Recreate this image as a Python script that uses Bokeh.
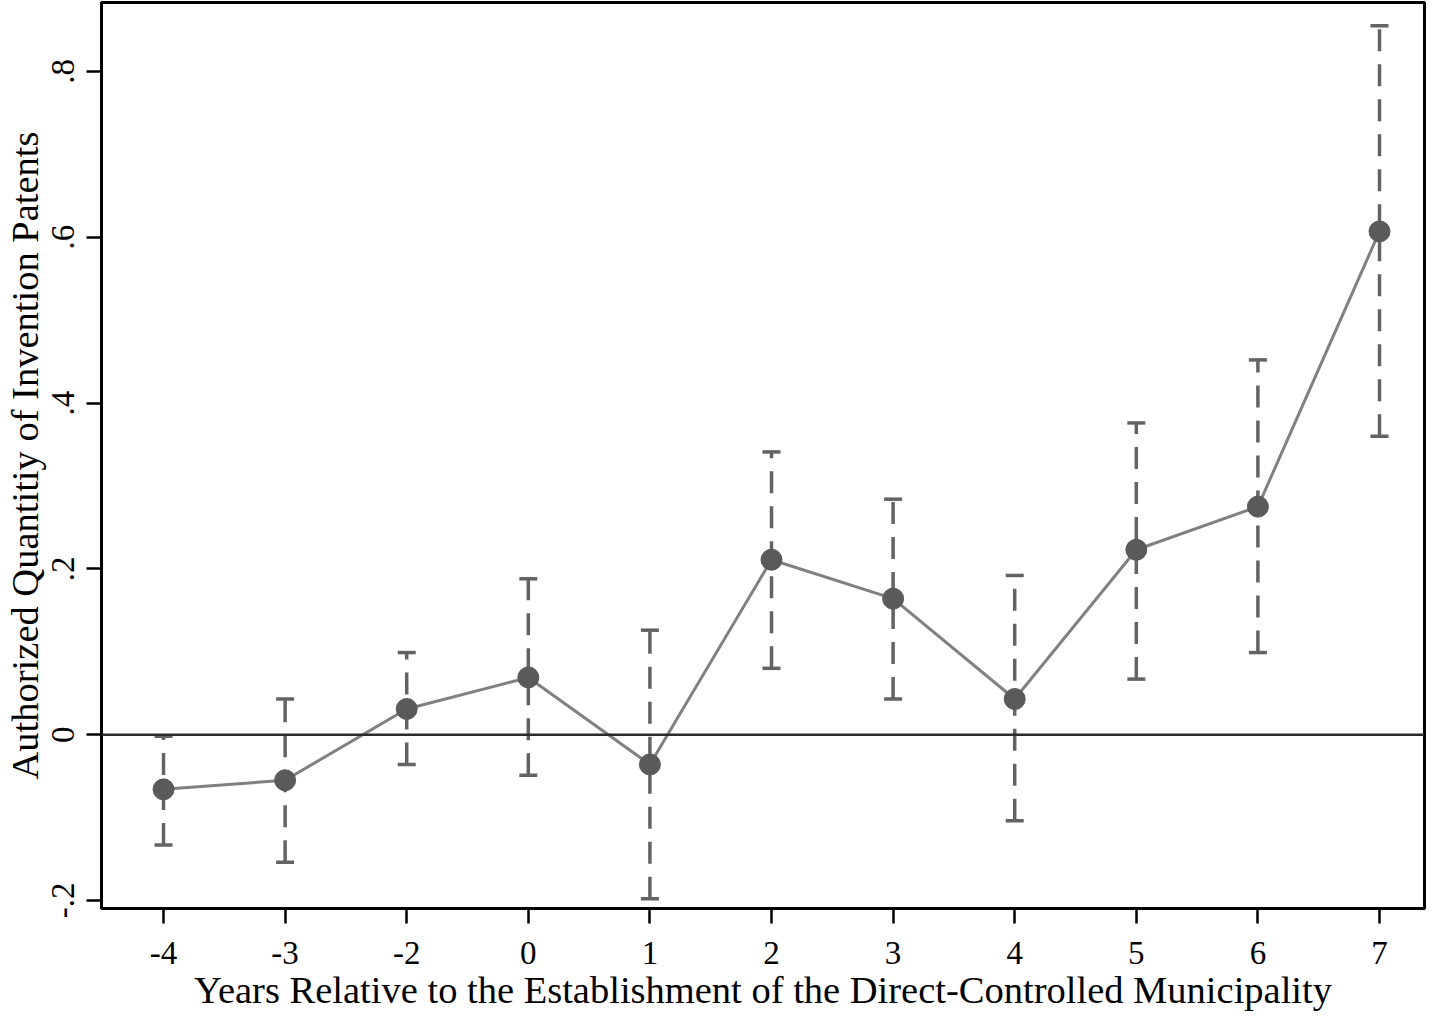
from bokeh.plotting import figure
from bokeh.models import Range1d, FixedTicker, Whisker, TeeHead, ColumnDataSource, Span
from bokeh.embed import file_html
from bokeh.resources import INLINE

# ---- data ----
categories = ["-4", "-3", "-2", "0", "1", "2", "3", "4", "5", "6", "7"]
positions = list(range(1, len(categories) + 1))
coef = [-0.066, -0.055, 0.031, 0.069, -0.036, 0.211, 0.164, 0.043, 0.223, 0.275, 0.607]
upper = [-0.002, 0.043, 0.099, 0.188, 0.126, 0.341, 0.284, 0.192, 0.376, 0.452, 0.855]
lower = [-0.133, -0.154, -0.036, -0.049, -0.198, 0.080, 0.043, -0.104, 0.067, 0.099, 0.360]
y_ticks = [-0.2, 0, 0.2, 0.4, 0.6, 0.8]
y_tick_labels = ["-.2", "0", ".2", ".4", ".6", ".8"]

FONT = "Liberation Serif"

p = figure(width=1426, height=1013, output_backend="svg", toolbar_location=None,
           x_range=Range1d(0.49, 11.37), y_range=Range1d(-0.2097, 0.8831),
           min_border_left=93, min_border_right=2, min_border_top=2, min_border_bottom=104)

p.background_fill_color = "white"
p.border_fill_color = "white"
p.xgrid.visible = False
p.ygrid.visible = False
p.outline_line_color = "black"
p.outline_line_width = 3

src = ColumnDataSource(dict(x=positions, y=coef, upper=upper, lower=lower))

# zero line
p.add_layout(Span(location=0, dimension="width", line_color="#2b2b2b", line_width=2.5))

# confidence intervals
w = Whisker(source=src, base="x", upper="upper", lower="lower", dimension="height",
            line_color="#636363", line_width=3.5, line_dash="22 13",
            upper_head=TeeHead(size=18, line_color="#636363", line_width=3.5),
            lower_head=TeeHead(size=18, line_color="#636363", line_width=3.5))
p.add_layout(w)

# connecting line and markers
p.line("x", "y", source=src, line_color="#808080", line_width=3)
p.scatter("x", "y", source=src, size=21, fill_color="#5a5a5a", line_color="#5a5a5a")

# x axis
p.xaxis.ticker = FixedTicker(ticks=positions)
p.xaxis.major_label_overrides = {pos: lab for pos, lab in zip(positions, categories)}
p.xaxis.axis_label = "Years Relative to the Establishment of the Direct-Controlled Municipality"

# y axis
p.yaxis.ticker = FixedTicker(ticks=y_ticks)
p.yaxis.major_label_overrides = {t: lab for t, lab in zip(y_ticks, y_tick_labels)}
p.yaxis.major_label_orientation = "vertical"
p.yaxis.axis_label = "Authorized Quantitiy of Invention Patents"

for ax in (p.xaxis[0], p.yaxis[0]):
    ax.axis_line_color = "black"
    ax.axis_line_width = 3
    ax.major_tick_line_color = "black"
    ax.major_tick_line_width = 2.5
    ax.major_tick_in = 0
    ax.major_tick_out = 15
    ax.minor_tick_line_color = None
    ax.major_label_text_font = FONT
    ax.major_label_text_font_size = "33px"
    ax.major_label_text_color = "black"
    ax.axis_label_text_font = FONT
    ax.axis_label_text_font_size = "38.5px"
    ax.axis_label_text_font_style = "normal"
    ax.axis_label_text_color = "black"

p.xaxis.major_label_standoff = 18
p.xaxis.axis_label_standoff = 2
p.yaxis.major_label_standoff = 12
p.yaxis.axis_label_standoff = 4

open("out.html", "w").write(file_html(p, INLINE))
